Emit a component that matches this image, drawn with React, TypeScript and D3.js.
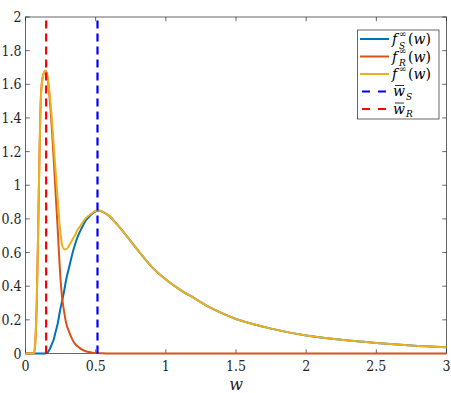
import React from 'react';
import * as d3 from 'd3';

const W = [0, 0.05, 0.06, 0.07, 0.08, 0.09, 0.10, 0.11, 0.12, 0.13, 0.14, 0.15, 0.16, 0.175, 0.19, 0.20, 0.215, 0.23, 0.245, 0.26, 0.275, 0.29, 0.31, 0.33, 0.35, 0.375, 0.40, 0.425, 0.45, 0.475, 0.50, 0.525, 0.55, 0.60, 0.65, 0.70, 0.80, 0.90, 1.0, 1.1, 1.2, 1.3, 1.4, 1.5, 1.6, 1.75, 2.0, 2.25, 2.5, 2.75, 3.0];
const F_S = [0, 0, 0, 0, 0, 0, 0, 0, 0, 0, 0, 0.002, 0.008, 0.03, 0.06, 0.08, 0.13, 0.18, 0.25, 0.31, 0.37, 0.44, 0.51, 0.58, 0.64, 0.70, 0.745, 0.785, 0.81, 0.83, 0.845, 0.848, 0.842, 0.815, 0.77, 0.72, 0.615, 0.515, 0.44, 0.38, 0.33, 0.28, 0.24, 0.205, 0.18, 0.148, 0.107, 0.082, 0.063, 0.048, 0.037];
const F_R = [0, 0, 0, 0.07, 0.3, 0.72, 1.2, 1.53, 1.63, 1.665, 1.68, 1.67, 1.62, 1.49, 1.31, 1.17, 0.95, 0.73, 0.50, 0.34, 0.25, 0.18, 0.13, 0.09, 0.06, 0.04, 0.025, 0.015, 0.009, 0.005, 0.003, 0.002, 0.001, 0, 0, 0, 0, 0, 0, 0, 0, 0, 0, 0, 0, 0, 0, 0, 0, 0, 0];
const F_TOTAL = [0, 0, 0, 0.07, 0.3, 0.72, 1.2, 1.53, 1.63, 1.665, 1.68, 1.672, 1.628, 1.52, 1.37, 1.25, 1.08, 0.91, 0.75, 0.65, 0.62, 0.62, 0.64, 0.67, 0.70, 0.74, 0.77, 0.80, 0.819, 0.835, 0.848, 0.85, 0.843, 0.815, 0.77, 0.72, 0.615, 0.515, 0.44, 0.38, 0.33, 0.28, 0.24, 0.205, 0.18, 0.148, 0.107, 0.082, 0.063, 0.048, 0.037];
const W_BAR_S = 0.513;
const W_BAR_R = 0.147;
const VLINE_Y = [0, 2];
const X_TICKS = [0, 0.5, 1, 1.5, 2, 2.5, 3];
const Y_TICKS = [0, 0.2, 0.4, 0.6, 0.8, 1, 1.2, 1.4, 1.6, 1.8, 2];

const COLORS = { s: '#0072BD', r: '#D95319', f: '#EDB120', ds: '#0000FF', dr: '#FF0000' };
const AXC = '#262626';
const FONT = 'DejaVu Serif';

export default function App() {
  const left = 25.5, right = 446.5, top = 17, bottom = 353.5;
  const x = d3.scaleLinear().domain([0, 3]).range([left, right]);
  const y = d3.scaleLinear().domain([0, 2]).range([bottom, top]);
  const line = (vals: number[]) =>
    d3.line<number>().x((_, i) => x(W[i])).y((v) => y(v)).curve(d3.curveMonotoneX)(vals) || '';
  const vline = (w: number) =>
    d3.line<number>().x(() => x(w)).y((v) => y(v))(VLINE_Y) || '';
  const tl = 4.2;

  const legX = 357.5, legY = 30, legW = 81.5, legH = 89;
  const rows = [39, 56.5, 74, 91.5, 109];
  const sx0 = 360, sx1 = 389, tx = 392;
  const fs = 14;
  return (
    <svg width={451} height={393} style={{ position: 'absolute', left: 0, top: 0, background: '#fff' }} fontFamily={FONT}>
      <rect x={0} y={0} width={451} height={393} fill="#fff" />
      <rect x={left} y={top} width={right - left} height={bottom - top} fill="none" stroke={AXC} strokeWidth={0.7} />
      {X_TICKS.map((t) => (
        <g key={'x' + t}>
          <line x1={x(t)} x2={x(t)} y1={bottom} y2={bottom - tl} stroke={AXC} strokeWidth={0.7} />
          <line x1={x(t)} x2={x(t)} y1={top} y2={top + tl} stroke={AXC} strokeWidth={0.7} />
          <text x={x(t)} y={bottom + 17} fontSize={fs} fontStretch="condensed" textAnchor="middle" fill={AXC} fontFamily={FONT}>{String(t)}</text>
        </g>
      ))}
      {Y_TICKS.map((t) => (
        <g key={'y' + t}>
          <line x1={left} x2={left + tl} y1={y(t)} y2={y(t)} stroke={AXC} strokeWidth={0.7} />
          <line x1={right} x2={right - tl} y1={y(t)} y2={y(t)} stroke={AXC} strokeWidth={0.7} />
          <text x={left - 4} y={y(t)} dy="0.36em" fontSize={fs} fontStretch="condensed" textAnchor="end" fill={AXC} fontFamily={FONT}>{String(t)}</text>
        </g>
      ))}
      <text x={(left + right) / 2} y={390} fontSize={16} fontStyle="italic" textAnchor="middle" fill={AXC} fontFamily={FONT}>w</text>

      <path d={line(F_S)} fill="none" stroke={COLORS.s} strokeWidth={2} strokeLinejoin="round" />
      <path d={line(F_R)} fill="none" stroke={COLORS.r} strokeWidth={2} strokeLinejoin="round" />
      <path d={line(F_TOTAL)} fill="none" stroke={COLORS.f} strokeWidth={2} strokeLinejoin="round" />
      <path d={vline(W_BAR_S)} fill="none" stroke={COLORS.ds} strokeWidth={2.2} strokeDasharray="8,5" />
      <path d={vline(W_BAR_R)} fill="none" stroke={COLORS.dr} strokeWidth={2.2} strokeDasharray="8,5" />

      <rect x={legX} y={legY} width={legW} height={legH} fill="#fff" stroke={AXC} strokeWidth={0.7} />
      <line x1={sx0} x2={sx1} y1={rows[0]} y2={rows[0]} stroke={COLORS.s} strokeWidth={2} />
      <line x1={sx0} x2={sx1} y1={rows[1]} y2={rows[1]} stroke={COLORS.r} strokeWidth={2} />
      <line x1={sx0} x2={sx1} y1={rows[2]} y2={rows[2]} stroke={COLORS.f} strokeWidth={2} />
      <line x1={sx0 + 2} x2={sx1 - 2} y1={rows[3]} y2={rows[3]} stroke={COLORS.ds} strokeWidth={2} strokeDasharray="8,8" />
      <line x1={sx0 + 2} x2={sx1 - 2} y1={rows[4]} y2={rows[4]} stroke={COLORS.dr} strokeWidth={2} strokeDasharray="8,8" />
      {[['S', rows[0]], ['R', rows[1]], ['', rows[2]]].map(([sub, ry]) => {
        const base = (ry as number) + 5;
        return (
          <text key={'leg' + sub} x={tx} y={base} fontSize={14} fill="#000" fontFamily={FONT}>
            <tspan fontStyle="italic">f</tspan>
            <tspan x={tx + 7} y={base - 7.5} fontSize={9}>∞</tspan>
            {sub ? <tspan x={tx + 7} y={base + 4.5} fontSize={9} fontStyle="italic">{sub}</tspan> : null}
            <tspan x={tx + 16} y={base}>(</tspan>
            <tspan fontStyle="italic">w</tspan>
            <tspan>)</tspan>
          </text>
        );
      })}
      {[['S', rows[3]], ['R', rows[4]]].map(([sub, ry]) => {
        const base = (ry as number) + 4.5;
        return (
          <g key={'legw' + sub}>
            <text x={tx + 1} y={base} fontSize={14} fill="#000" fontFamily={FONT}>
              <tspan fontStyle="italic">w</tspan>
              <tspan x={tx + 14} y={base + 3.5} fontSize={9} fontStyle="italic">{sub}</tspan>
            </text>
            <line x1={tx + 3} x2={tx + 12} y1={(ry as number) - 6} y2={(ry as number) - 6} stroke="#000" strokeWidth={0.8} />
          </g>
        );
      })}
    </svg>
  );
}
